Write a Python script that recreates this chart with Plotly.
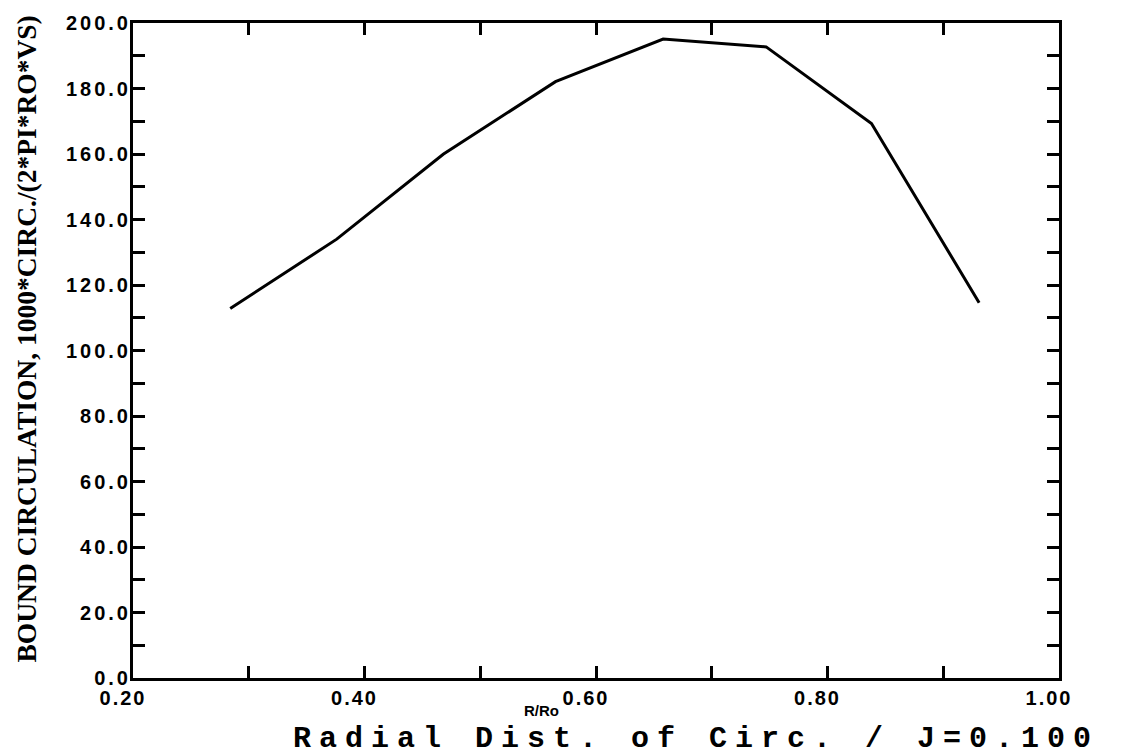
import plotly.graph_objects as go

# Data
r_ro = [0.284, 0.376, 0.468, 0.565, 0.658, 0.747, 0.838, 0.931]
circ = [112.8, 134.0, 159.9, 182.1, 195.1, 192.7, 169.3, 114.6]

x_tickvals = [0.2, 0.3, 0.4, 0.5, 0.6, 0.7, 0.8, 0.9, 1.0]
x_ticklabels = ["0.20", "", "0.40", "", "0.60", "", "0.80", "", "1.00"]
y_tickvals = list(range(0, 201, 10))
y_ticklabels = ["0.0", "", "20.0", "", "40.0", "", "60.0", "", "80.0", "",
                "100.0", "", "120.0", "", "140.0", "", "160.0", "", "180.0", "", "200.0"]

x_title = "Radial Dist. of Circ. / J=0.100"
x_unit = "R/Ro"
y_title = "BOUND CIRCULATION, 1000*CIRC./(2*PI*RO*VS)"

W, H = 1126, 755
L, R, T, B = 133, 67, 20, 77


def spaced(t, px):
    return t if t == "" else f'<span style="letter-spacing:{px}px">{t}</span>'


fig = go.Figure()
fig.add_trace(go.Scatter(x=r_ro, y=circ, mode="lines",
                         line=dict(color="black", width=3), showlegend=False))

tickfont = dict(family="Liberation Sans, Arial, sans-serif", size=20, color="black", weight="bold")

fig.update_layout(
    width=W, height=H,
    margin=dict(l=L, r=R, t=T, b=B),
    paper_bgcolor="white", plot_bgcolor="white",
    xaxis=dict(range=[0.2, 1.0], tickvals=x_tickvals,
               ticktext=[spaced(t, 2) for t in x_ticklabels],
               ticks="inside", ticklen=12, tickwidth=3, tickcolor="black",
               showline=True, linewidth=3, linecolor="black", mirror="ticks",
               showgrid=False, zeroline=False, tickfont=tickfont,
               ticklabelshift=-10, ticklabelstandoff=0),
    yaxis=dict(range=[0, 200], tickvals=y_tickvals,
               ticktext=[spaced(t, 3) for t in y_ticklabels],
               ticks="inside", ticklen=12, tickwidth=3, tickcolor="black",
               showline=True, linewidth=3, linecolor="black", mirror="ticks",
               showgrid=False, zeroline=False, tickfont=tickfont,
               ticklabelstandoff=-5),
)

pw = W - L - R
ph = H - T - B


def px_to_paper(px, py):
    return (px - L) / pw, (H - B - py) / ph


# x-axis unit label
ux, uy = px_to_paper(541, 711)
fig.add_annotation(x=ux, y=uy, xref="paper", yref="paper", text=f"<b>{x_unit}</b>",
                   showarrow=False, xanchor="center", yanchor="middle",
                   font=dict(family="Liberation Sans, Arial, sans-serif", size=15, color="black"))

# x-axis title (wide monospace)
tx, ty = px_to_paper(291, 739)
fig.add_annotation(x=tx, y=ty, xref="paper", yref="paper",
                   text=f'<b><span style="letter-spacing:8px">{x_title}</span></b>',
                   showarrow=False, xanchor="left", yanchor="middle",
                   font=dict(family="Liberation Mono, Courier New, monospace", size=30, color="black"))

# y-axis title
yx, yy = px_to_paper(27, 338)
fig.add_annotation(x=yx, y=yy, xref="paper", yref="paper", text=f"<b>{y_title}</b>",
                   showarrow=False, textangle=-90, xanchor="center", yanchor="middle",
                   font=dict(family="Liberation Serif, Times New Roman, serif", size=27.5, color="black"))

fig.write_html("out.html")
